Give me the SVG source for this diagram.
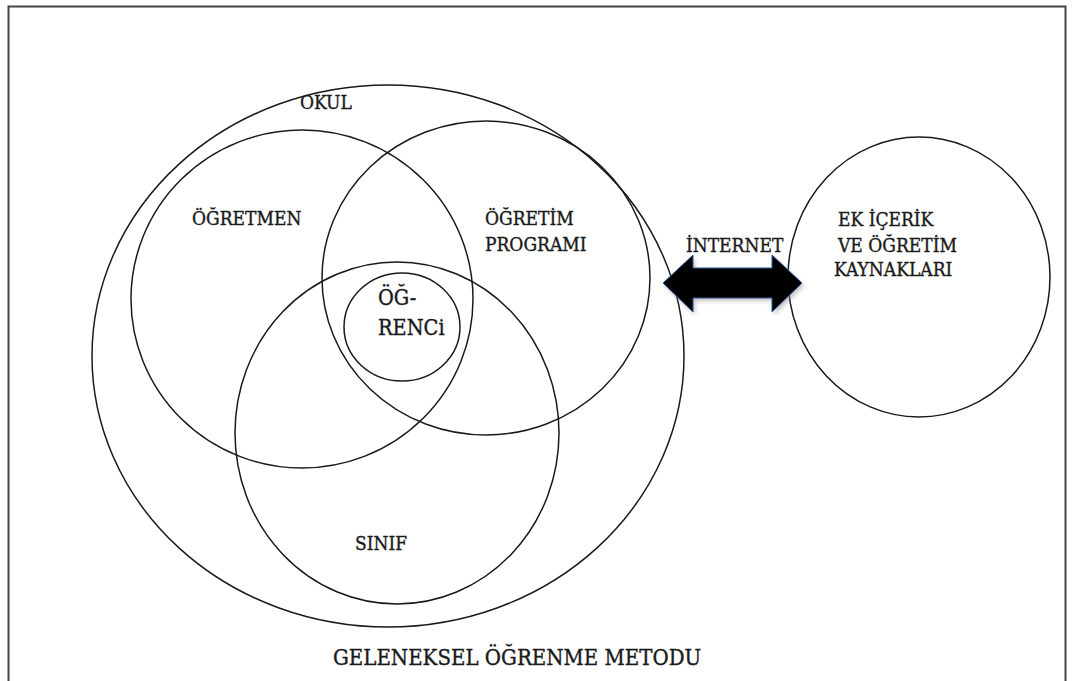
<svg xmlns="http://www.w3.org/2000/svg" width="1073" height="681" viewBox="0 0 1073 681">
<style>
.c{fill:none;stroke:#1a1a1a;stroke-width:1.5}
.t{font-family:"DejaVu Serif Condensed","DejaVu Serif","Liberation Serif",serif;font-stretch:condensed;fill:#1a1a1a;stroke:#1a1a1a;stroke-width:0.35;font-size:19px}
</style>
<defs>
<filter id="sh" x="-10%" y="-10%" width="120%" height="120%">
<feGaussianBlur stdDeviation="2"/>
</filter>
</defs>
<rect x="0" y="0" width="1073" height="681" fill="#fff"/>
<rect x="8.5" y="6.5" width="1057" height="690" fill="none" stroke="#444" stroke-width="2"/>
<g id="okul">
<ellipse class="c" cx="388" cy="356" rx="296" ry="271"/>
<text class="t" x="300" y="109">OKUL</text>
</g>
<g id="ogretmen">
<ellipse class="c" cx="302" cy="299" rx="171" ry="169"/>
<text class="t" x="192" y="225">ÖĞRETMEN</text>
</g>
<g id="ogretim-programi">
<ellipse class="c" cx="486" cy="278" rx="164" ry="157"/>
<text class="t" x="485" y="225">ÖĞRETİM</text>
<text class="t" x="485" y="251">PROGRAMI</text>
</g>
<g id="sinif">
<ellipse class="c" cx="397" cy="433" rx="162" ry="171"/>
<text class="t" x="355" y="550">SINIF</text>
</g>
<g id="ogrenci">
<ellipse class="c" cx="402" cy="327" rx="58" ry="54"/>
<text class="t" x="378" y="305" style="font-size:21.5px">ÖĞ-</text>
<text class="t" x="378" y="335" style="font-size:21.5px">RENCi</text>
</g>
<g id="ek-icerik">
<ellipse class="c" cx="919" cy="277" rx="131" ry="140"/>
<text class="t" x="838" y="226">EK İÇERİK</text>
<text class="t" x="838" y="252">VE ÖĞRETİM</text>
<text class="t" x="834" y="276">KAYNAKLARI</text>
</g>
<g id="connectors">
<polygon points="663,283 693,255 693,268 772,268 772,255 802,283 772,312 772,298 693,298 693,312" fill="#888" opacity="0.5" filter="url(#sh)" transform="translate(2,3)"/>
<polygon points="663,283 693,255 693,268 772,268 772,255 802,283 772,312 772,298 693,298 693,312" fill="#000" stroke="#2a5a9a" stroke-width="1"/>
<text class="t" x="686" y="252">İNTERNET</text>
</g>
<text class="t" x="333" y="665" style="font-size:22px">GELENEKSEL ÖĞRENME METODU</text>
</svg>
